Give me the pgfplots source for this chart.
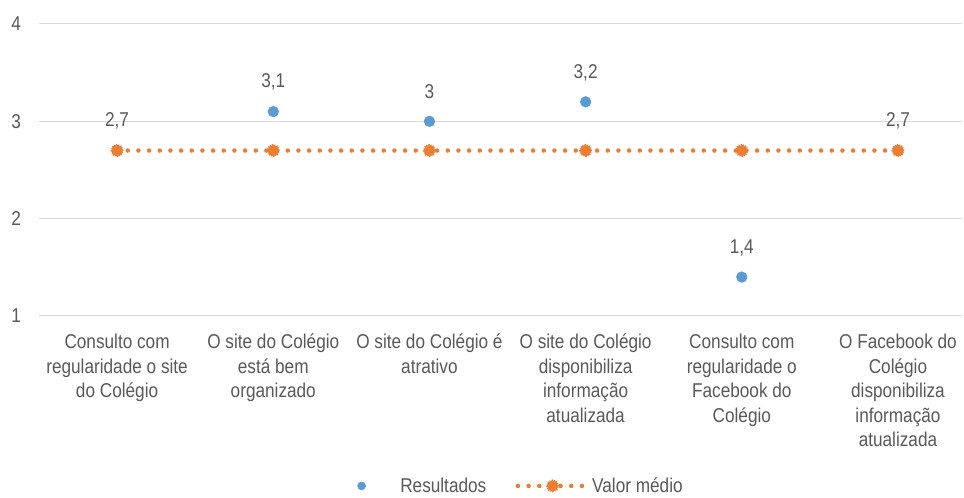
\documentclass[border=0pt]{standalone}
\usepackage{fontspec}
\setmainfont{Liberation Sans}[FakeStretch=0.86]
\usepackage{pgfplots}
\pgfplotsset{compat=1.18}
\definecolor{blu}{HTML}{5B9BD5}
\definecolor{ora}{HTML}{ED7D31}
\definecolor{grd}{HTML}{D9D9D9}
\definecolor{txt}{HTML}{595959}
\newcommand{\lblfont}{\fontsize{15}{18.4}\selectfont}
\pgfplotsset{
  bluelegend/.style={legend image code/.code={\path[draw=none] (-4pt,0pt) -- (27pt,0pt); \draw[##1, mark size=3pt] plot coordinates {(0pt,0pt)};}},
  oralegend/.style={legend image code/.code={\draw[mark repeat=2,mark phase=2,##1] plot coordinates {(0pt,0pt) (26pt,0pt) (52pt,0pt)};}},
}
\begin{document}
\begin{tikzpicture}
\path[use as bounding box] (-29.25pt,-136.5pt) rectangle (693.75pt,237pt);
\begin{axis}[
  scale only axis, width=692.25pt, height=219pt,
  xmin=-0.5, xmax=5.41, ymin=1, ymax=4,
  axis line style={draw=none}, tick style={draw=none},
  ymajorgrids, grid style={grd, line width=0.75pt},
  xtick={0,1,2,3,4,5}, ytick={1,2,3,4},
  xticklabels={{Consulto com\\regularidade o site\\do Colégio},
    {O site do Colégio\\está bem\\organizado},
    {O site do Colégio é\\atrativo},
    {O site do Colégio\\disponibiliza\\informação\\atualizada},
    {Consulto com\\regularidade o\\Facebook do\\Colégio},
    {O Facebook do\\Colégio\\disponibiliza\\informação\\atualizada}},
  xticklabel style={align=center, font=\lblfont, text=txt, yshift=-10pt},
  yticklabel style={font=\lblfont, text=txt, xshift=-10pt},
  /pgf/number format/assume math mode=true,
  clip=false,
  legend columns=2,
  legend style={at={(0.522,-0.582)}, anchor=center, draw=none, fill=none,
    font=\lblfont, text=txt,
    /tikz/every even column/.append style={column sep=20pt}},
]
\addplot[only marks, mark=*, mark size=4pt, color=blu,
  mark options={fill=blu, draw=blu},
  nodes near coords, point meta=explicit symbolic,
  nodes near coords style={anchor=center, yshift=22pt, text=txt, font=\lblfont},
  bluelegend]
  table[meta=lab] {
x y lab
0 2.7 2,7
1 3.1 3,1
2 3.0 3
3 3.2 3,2
4 1.4 1,4
5 2.7 2,7
};
\addlegendentry{Resultados}
\addplot[color=ora, line width=3.4pt, dash pattern=on 0pt off 8pt, line cap=round,
  mark=*, mark size=4.2pt,
  mark options={solid, fill=ora, draw=ora, line width=1.4pt, dash pattern=on 0.8pt off 0.8pt, line cap=butt},
  oralegend]
  table {
x y
0 2.7
1 2.7
2 2.7
3 2.7
4 2.7
5 2.7
};
\addlegendentry{Valor médio}
\end{axis}
\end{tikzpicture}
\end{document}
